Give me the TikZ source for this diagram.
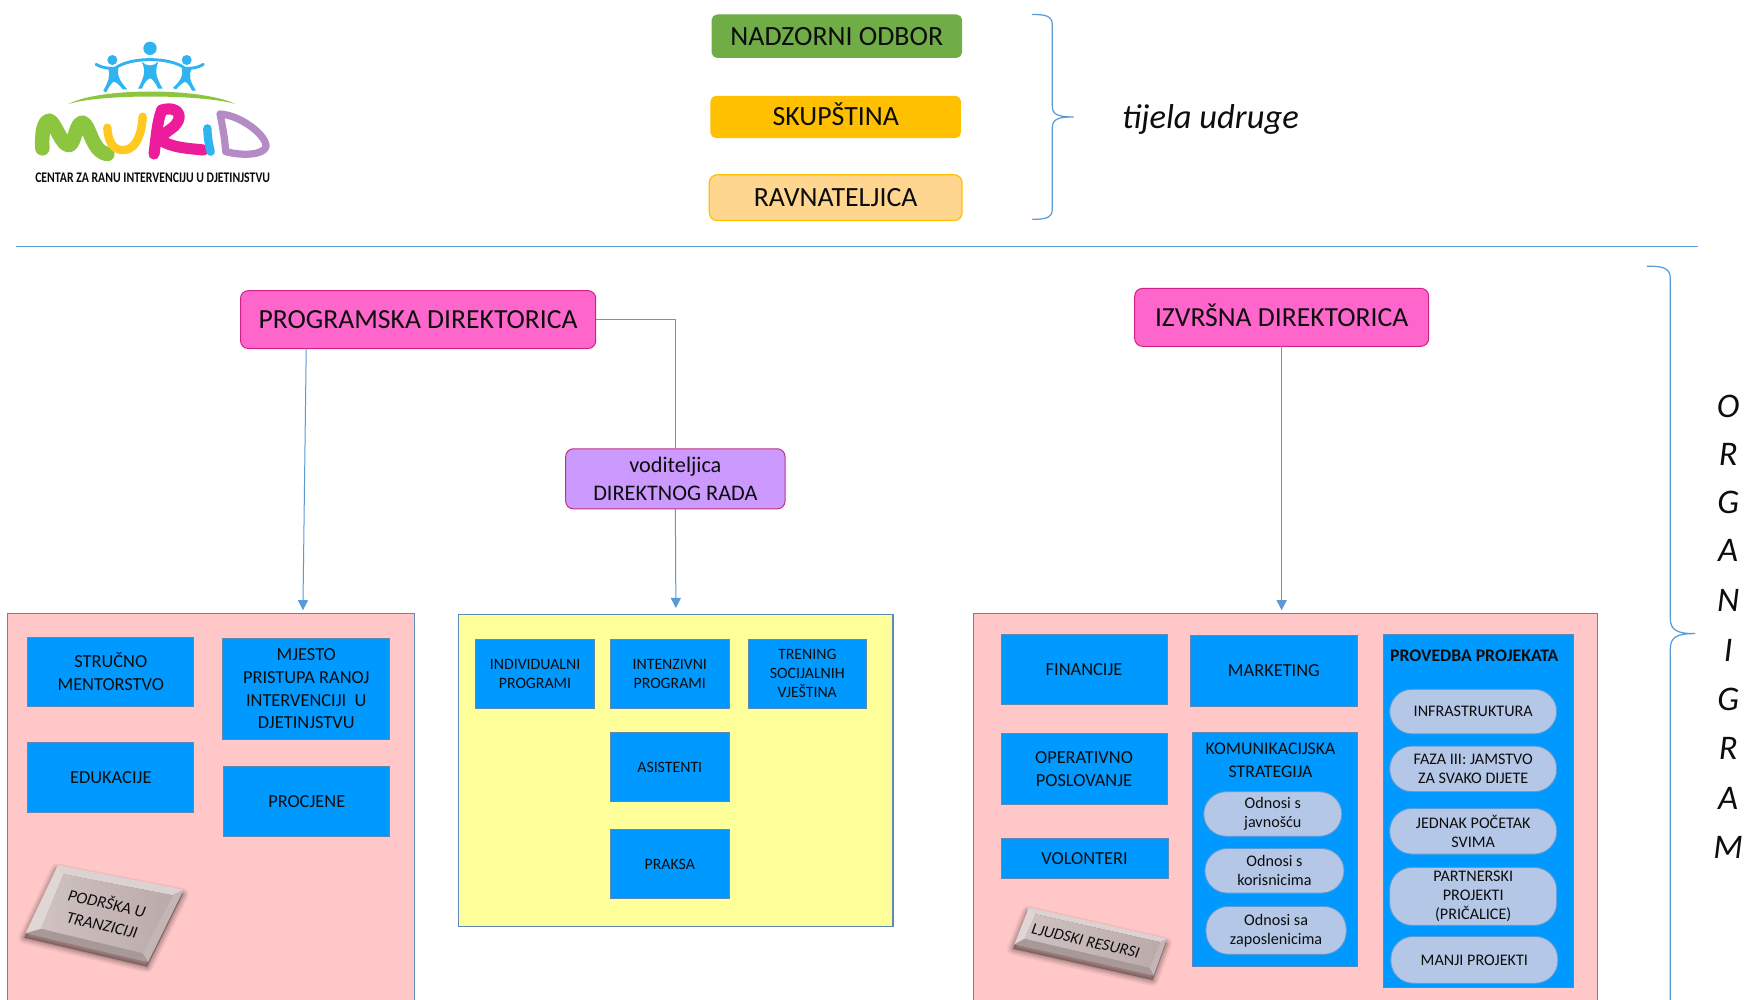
\documentclass[tikz,border=0pt]{standalone}
\usepackage{fontspec}
\setmainfont{Carlito}
\usetikzlibrary{calc,arrows.meta}
\newcommand{\fs}[2]{\fontsize{#1}{#2}\selectfont}
\newcommand{\capsonly}[1]{\raisebox{0pt}[.64em][0pt]{#1}}
\newcommand{\bx}[7]{\node[#2,minimum width={(#5-#3)*1pt},minimum height={(#6-#4)*1pt}] (#1) at ({(#3+#5)/2},{(#4+#6)/2}) {#7};}
\newcommand{\bevel}[8]{%
  \foreach \lw/\op in {11/.05,8/.07,5/.09,2/.12}{\filldraw[black,opacity=\op,line width=\lw pt,line join=round] ($(#1)+(-1,4)$)--($(#2)+(-1,4)$)--($(#3)+(-1,4)$)--($(#4)+(-1,4)$)--cycle;}
  \fill[btnTop] (#1)--(#2)--(#6)--(#5)--cycle;
  \fill[btnRight] (#2)--(#3)--(#7)--(#6)--cycle;
  \fill[btnBottom] (#3)--(#4)--(#8)--(#7)--cycle;
  \fill[btnLeft] (#4)--(#1)--(#5)--(#8)--cycle;
  \shade[left color=btnFaceA,right color=btnFaceB] (#5)--(#6)--(#7)--(#8)--cycle;
}
\definecolor{lineblue}{HTML}{5B9BD5}
\definecolor{boxblue}{HTML}{0099FF}
\definecolor{pillfill}{HTML}{B4C7E7}
\definecolor{panelpink}{HTML}{FFC7C7}
\definecolor{panelline}{HTML}{5F88B5}
\definecolor{btnFaceA}{HTML}{D0C2C2}
\definecolor{btnFaceB}{HTML}{BBAAAA}
\definecolor{btnTop}{HTML}{DDD2D2}
\definecolor{btnRight}{HTML}{C4B6B6}
\definecolor{btnBottom}{HTML}{A89999}
\definecolor{btnLeft}{HTML}{E0D6D6}
\definecolor{logoblue}{HTML}{2FB4F0}
\definecolor{logogreen}{HTML}{8CC63F}
\definecolor{logoyellow}{HTML}{FFC91F}
\definecolor{logopink}{HTML}{EC1C9A}
\definecolor{logopurple}{HTML}{B58BC6}
\definecolor{nodgreen}{HTML}{70AD47}
\definecolor{nodorange}{HTML}{FFC000}
\definecolor{nodsand}{HTML}{FFD68F}
\definecolor{dirpink}{HTML}{FF66CC}
\definecolor{vodfill}{HTML}{CC99FF}
\definecolor{yellowfill}{HTML}{FFFF99}
\tikzset{
  every node/.style={inner sep=0pt,outer sep=0pt,align=center,text=black!95},
  body/.style={rounded corners=5pt,font=\fs{25}{30}},
  dirbox/.style={draw=magenta!85!black,line width=.9pt,fill=dirpink,rounded corners=7pt,font=\fs{24.8}{30}},
  panel/.style={draw=panelline,line width=1pt,fill=#1},
  bluebox/.style={draw=panelline,line width=.8pt,fill=boxblue,font=\fs{16.5}{20.5}},
  bluesm/.style={draw=panelline,line width=.8pt,fill=boxblue,font=\fs{14.2}{17}},
  pill/.style={draw=lineblue,line width=.8pt,fill=pillfill,rounded corners=20pt,font=\fs{14.5}{17}},
  conn/.style={draw=lineblue,line width=.9pt},
  arrowline/.style={conn,-{Triangle[length=9pt,width=9pt]}},
  brace/.style={draw=lineblue,line width=1.1pt,line join=round},
  vert/.style={font=\fs{31}{36}\itshape},
}
\begin{document}
\begin{tikzpicture}[x=1pt,y=-1pt]
\useasboundingbox (0,0) rectangle (1568,898);
\fill[white] (0,0) rectangle (1568,898);
\begin{scope}
\clip (0,0) rectangle (1568,898);

% --- logo
\begin{scope}[x=.2994pt,y=-.2994pt]
 \fill[logoblue] (450,145) circle[radius=6pt] (337,180) circle[radius=4.5pt] (560,180) circle[radius=4.5pt];
 \draw[logoblue,line width=2.6pt,line cap=round] (288,193) .. controls (310,205) and (325,205) .. (345,205) .. controls (390,170) and (510,170) .. (555,205) .. controls (575,205) and (590,205) .. (610,193);
 \fill[logoblue] (425,185) .. controls (440,200) and (460,200) .. (475,185) .. controls (462,215) and (470,235) .. (488,266) -- (474,266) .. controls (465,245) and (455,235) .. (450,235) .. controls (445,235) and (430,250) .. (426,266) -- (414,266) .. controls (430,235) and (440,215) .. cycle;
 \fill[logoblue] (325,205) -- (355,203) .. controls (350,225) and (360,245) .. (382,268) -- (368,268) .. controls (355,250) and (345,245) .. (340,245) .. controls (335,250) and (325,262) .. (318,278) -- (310,272) .. controls (325,245) and (332,225) .. cycle;
 \fill[logoblue] (545,205) -- (575,205) .. controls (565,225) and (570,245) .. (588,272) -- (576,272) .. controls (570,258) and (562,248) .. (555,245) .. controls (545,250) and (535,260) .. (528,268) -- (518,264) .. controls (540,245) and (552,225) .. cycle;
 \fill[logogreen] (205,312) .. controls (300,262) and (600,262) .. (707,312) .. controls (600,282) and (300,282) .. cycle;
 \draw[logogreen,line width=13pt,line cap=round,line join=round] (127,445) .. controls (125,400) and (130,365) .. (148,362) .. controls (165,365) and (185,440) .. (208,435) .. controls (225,430) and (228,365) .. (248,368) .. controls (270,375) and (275,455) .. (322,462);
 \draw[logoyellow,line width=7.5pt,line cap=round] (322,383) .. controls (325,440) and (350,452) .. (375,450) .. controls (410,445) and (425,400) .. (428,350);
 \draw[logopink,line width=10pt,line cap=round,line join=round] (462,462) .. controls (468,420) and (470,370) .. (485,330) .. controls (540,315) and (555,355) .. (515,385) .. controls (495,400) and (485,405) .. (480,420) .. controls (520,445) and (570,445) .. (610,450);
 \draw[logoblue,line width=7.5pt,line cap=round] (622,385) .. controls (622,410) and (628,440) .. (632,455);
 \draw[logopurple,line width=6.5pt,line cap=round,line join=round] (660,342) .. controls (668,380) and (675,420) .. (677,455) .. controls (730,468) and (790,465) .. (798,440) .. controls (800,405) and (720,345) .. (660,342);
 \node[font=\fs{13.2}{15}\bfseries,xscale=.80,transform shape] (logotext) at (458,532) {CENTAR ZA RANU INTERVENCIJU U DJETINJSTVU};
\end{scope}

% --- bodies
\bx{nadzor}{body,fill=nodgreen}{639}{13}{864}{52}{NADZORNI ODBOR}
\bx{skup}{body,fill=nodorange}{638}{86}{863}{124}{\capsonly{SKUPŠTINA}}
\bx{ravn}{body,rounded corners=7pt,draw=nodorange,line width=1.1pt,fill=nodsand}{637}{157}{864}{198}{RAVNATELJICA}
\draw[brace] (927,13) .. controls (938,13) and (945,14) .. (945,22) -- (945,95) .. controls (945,103) and (950,105) .. (964,105) .. controls (950,105) and (945,107) .. (945,115) -- (945,188) .. controls (945,196) and (938,197) .. (927,197);
\node[font=\fs{31}{36}\itshape] (tijela) at (1087,107) {tijela udruge};
\draw[conn] (14,221) -- (1525,221);
\draw[brace] (1479,239) .. controls (1492,239) and (1500,240) .. (1500,250) -- (1500,555) .. controls (1500,566) and (1506,569) .. (1522,569) .. controls (1506,569) and (1500,572) .. (1500,583) -- (1500,905);
\foreach \c/\y/\n in {O/365/a,R/408/b,G/451/c,A/494/d,N/539/e,I/584/f,G/628/g,R/672/h,A/717/i,M/761/j}{\node[vert] (org\n) at (1552,\y) {\c};}

% --- directors
\bx{prog}{dirbox}{216}{261}{535}{313}{PROGRAMSKA DIREKTORICA}
\bx{izv}{dirbox}{1019}{259}{1283}{311}{\capsonly{IZVRŠNA DIREKTORICA}}
\bx{vod}{draw=magenta!75!black,line width=.9pt,fill=vodfill,rounded corners=7pt,font=\fs{20}{24.5}}{508}{403}{705}{457}{voditeljica\\DIREKTNOG RADA}

% --- panels
\bx{pinkL}{panel=panelpink}{7}{551}{372}{920}{}
\bx{yellow}{panel=yellowfill}{412}{552}{802}{832}{}
\bx{pinkR}{panel=panelpink}{874}{551}{1435}{920}{}

% --- connectors
\coordinate (pout) at (275,313);
\coordinate (ptip) at (272,551);
\draw[arrowline,shorten >=3pt] (prog.south -| pout) -- (pinkL.north -| ptip);
\draw[conn] (prog.east) -| (vod.north);
\draw[arrowline,shorten >=6pt] (vod.south) -- (yellow.north);
\draw[arrowline,shorten >=3pt] (izv.south) -- (izv.south |- pinkR.north);

% --- left panel
\bx{struc}{bluebox}{25}{572}{174}{634}{STRUČNO\\MENTORSTVO}
\bx{mjesto}{bluebox}{200}{573}{350}{664}{MJESTO\\PRISTUPA RANOJ\\INTERVENCIJI~~U\\DJETINJSTVU}
\bx{eduk}{bluebox}{25}{667}{174}{730}{EDUKACIJE}
\bx{proc}{bluebox}{201}{688}{350}{751}{PROCJENE}
\coordinate (a1) at (52,777); \coordinate (a2) at (165,799); \coordinate (a3) at (133,864); \coordinate (a4) at (23,838);
\coordinate (a5) at (57,785); \coordinate (a6) at (155,804); \coordinate (a7) at (128,856); \coordinate (a8) at (37,834);
\bevel{a1}{a2}{a3}{a4}{a5}{a6}{a7}{a8}
\node[rotate=-13,font=\fs{15}{19.5}\itshape] (podr) at (94,820) {PODRŠKA U\\TRANZICIJI};

% --- yellow panel
\bx{indiv}{bluesm}{427}{574}{534}{636}{INDIVIDUALNI\\PROGRAMI}
\bx{inten}{bluesm}{548}{574}{655}{636}{INTENZIVNI\\PROGRAMI}
\bx{tren}{bluesm}{672}{574}{778}{636}{TRENING\\SOCIJALNIH\\VJEŠTINA}
\bx{asis}{bluesm}{548}{658}{655}{720}{ASISTENTI}
\bx{praksa}{bluesm}{548}{745}{655}{807}{PRAKSA}

% --- right panel
\bx{fin}{bluebox}{899}{570}{1048}{633}{FINANCIJE}
\bx{mark}{bluebox}{1069}{571}{1219}{634}{MARKETING}
\bx{oper}{bluebox}{899}{659}{1048}{722}{OPERATIVNO\\POSLOVANJE}
\bx{vol}{bluebox}{899}{753}{1049}{789}{VOLONTERI}
\bx{kom}{bluebox}{1071}{658}{1219}{868}{}
\node[font=\fs{16}{20.5}] (komt) at (1141,683) {KOMUNIKACIJSKA\\STRATEGIJA};
\bx{od1}{pill}{1081}{711}{1205}{751}{Odnosi s\\javnošću}
\bx{od2}{pill}{1082}{762}{1207}{802}{Odnosi s\\korisnicima}
\bx{od3}{pill}{1083}{814}{1209}{857}{Odnosi sa\\zaposlenicima}
\bx{prov}{bluebox}{1242}{570}{1413}{887}{}
\node[font=\fs{15.9}{19}\bfseries] (provt) at (1324,589) {PROVEDBA PROJEKATA};
\bx{inf}{pill}{1248}{619}{1398}{659}{INFRASTRUKTURA}
\bx{faza}{pill}{1248}{670}{1398}{711}{FAZA III: JAMSTVO\\ZA SVAKO DIJETE}
\bx{jedn}{pill}{1248}{726}{1398}{767}{JEDNAK POČETAK\\SVIMA}
\bx{part}{pill}{1248}{779}{1398}{831}{PARTNERSKI\\PROJEKTI\\(PRIČALICE)}
\bx{manji}{pill}{1249}{841}{1399}{883}{MANJI PROJEKTI}
\coordinate (b1) at (924,815); \coordinate (b2) at (1048,843); \coordinate (b3) at (1036,876); \coordinate (b4) at (911,848);
\coordinate (b5) at (930,821); \coordinate (b6) at (1042,846); \coordinate (b7) at (1032,869); \coordinate (b8) at (920,843);
\bevel{b1}{b2}{b3}{b4}{b5}{b6}{b7}{b8}
\node[rotate=-13,font=\fs{14.5}{17}\itshape] (ljud) at (975,845) {LJUDSKI RESURSI};
\end{scope}
\end{tikzpicture}
\end{document}
